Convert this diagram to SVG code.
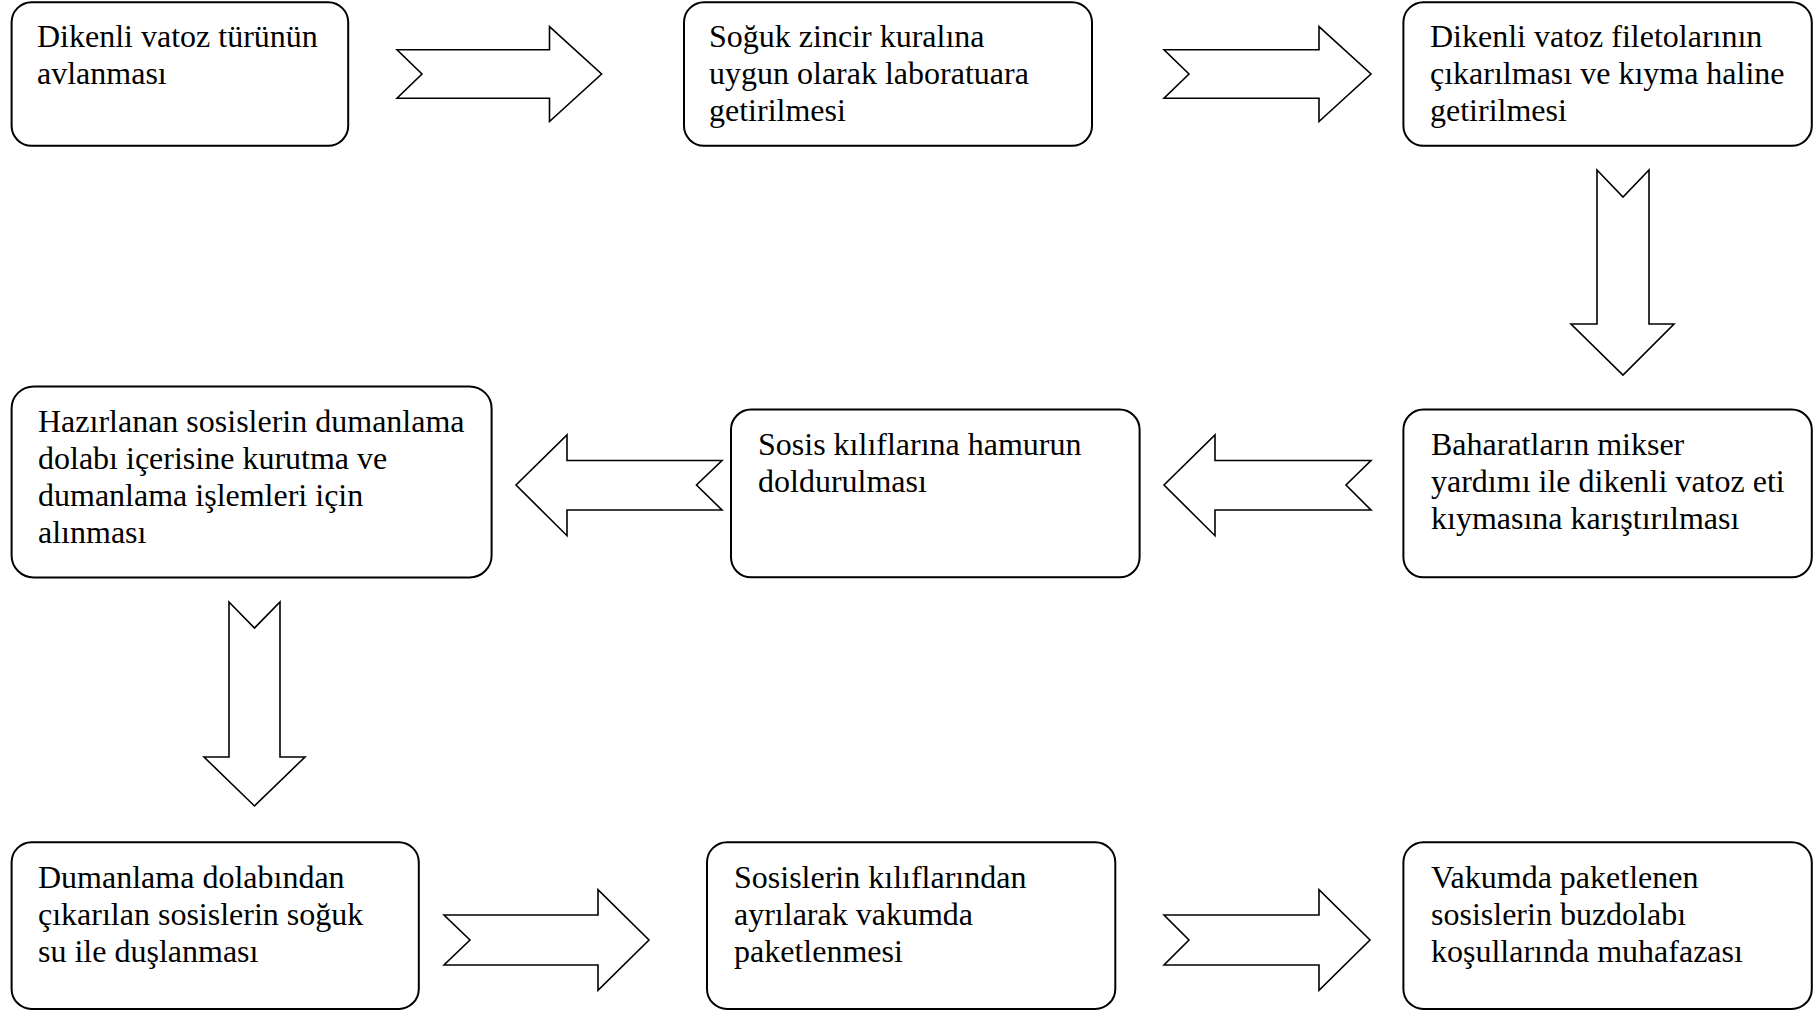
<svg xmlns="http://www.w3.org/2000/svg" width="1814" height="1011" viewBox="0 0 1814 1011">
<style>
.box{fill:#fff;stroke:#000;stroke-width:2}
.arr{fill:#fff;stroke:#000;stroke-width:1.6;stroke-linejoin:miter}
.t{font-family:"Liberation Serif","Times New Roman",serif;font-size:32px;fill:#000}
</style>
<rect width="1814" height="1011" fill="#fff"/>
<g id="connectors">
<polygon class="arr" points="397,49.7 549.5,49.7 549.5,26.6 601.6,74 549.5,121.5 549.5,98.3 397,98.3 422,74"/>
<polygon class="arr" points="1164,49.7 1319,49.7 1319,26.6 1371,74 1319,121.5 1319,98.3 1164,98.3 1189,74"/>
<polygon class="arr" points="1597,170 1623,197 1649,170 1649,324 1674,324 1623,375 1571,324 1597,324"/>
<polygon class="arr" points="722,460.5 567,460.5 567,435 516,485 567,535.7 567,510 722,510 696.5,485"/>
<polygon class="arr" points="1371,460.5 1215,460.5 1215,435 1164,485 1215,535.7 1215,510 1371,510 1346,485"/>
<polygon class="arr" points="229,602 254.5,628 280,602 280,757 305,757 254.5,806 204,757 229,757"/>
<polygon class="arr" points="444,915 598,915 598,889.7 649,940 598,990.4 598,965 444,965 470,940"/>
<polygon class="arr" points="1164,915 1319,915 1319,889.7 1370,940 1319,990.4 1319,965 1164,965 1189,940"/>
</g>
<g id="n1"><rect class="box" x="11.6" y="2.3" width="336.6" height="143.5" rx="20"/>
<text class="t" x="37" y="46.5">Dikenli vatoz türünün</text><text class="t" x="37" y="83.5">avlanması</text></g>
<g id="n2"><rect class="box" x="684" y="2.3" width="408" height="143.5" rx="20"/>
<text class="t" x="709" y="46.5">Soğuk zincir kuralına</text><text class="t" x="709" y="83.5">uygun olarak laboratuara</text><text class="t" x="709" y="120.5">getirilmesi</text></g>
<g id="n3"><rect class="box" x="1403.4" y="2.3" width="408.4" height="143.5" rx="20"/>
<text class="t" x="1430" y="46.5">Dikenli vatoz filetolarının</text><text class="t" x="1430" y="83.5">çıkarılması ve kıyma haline</text><text class="t" x="1430" y="120.5">getirilmesi</text></g>
<g id="n4"><rect class="box" x="11.6" y="386.4" width="480" height="191" rx="22"/>
<text class="t" x="38" y="432">Hazırlanan sosislerin dumanlama</text><text class="t" x="38" y="469">dolabı içerisine kurutma ve</text><text class="t" x="38" y="506">dumanlama işlemleri için</text><text class="t" x="38" y="543">alınması</text></g>
<g id="n5"><rect class="box" x="731" y="409.6" width="408.6" height="167.7" rx="20"/>
<text class="t" x="758" y="455">Sosis kılıflarına hamurun</text><text class="t" x="758" y="492">doldurulması</text></g>
<g id="n6"><rect class="box" x="1403.4" y="409.6" width="408.4" height="167.7" rx="20"/>
<text class="t" x="1431" y="455">Baharatların mikser</text><text class="t" x="1431" y="492">yardımı ile dikenli vatoz eti</text><text class="t" x="1431" y="529">kıymasına karıştırılması</text></g>
<g id="n7"><rect class="box" x="11.6" y="842.3" width="407.2" height="166.6" rx="20"/>
<text class="t" x="38" y="887.5">Dumanlama dolabından</text><text class="t" x="38" y="924.5">çıkarılan sosislerin soğuk</text><text class="t" x="38" y="961.5">su ile duşlanması</text></g>
<g id="n8"><rect class="box" x="707" y="842.3" width="408.3" height="166.6" rx="20"/>
<text class="t" x="734" y="887.5">Sosislerin kılıflarından</text><text class="t" x="734" y="924.5">ayrılarak vakumda</text><text class="t" x="734" y="961.5">paketlenmesi</text></g>
<g id="n9"><rect class="box" x="1403.4" y="842.3" width="408.4" height="166.6" rx="20"/>
<text class="t" x="1431" y="887.5">Vakumda paketlenen</text><text class="t" x="1431" y="924.5">sosislerin buzdolabı</text><text class="t" x="1431" y="961.5">koşullarında muhafazası</text></g>
</svg>
